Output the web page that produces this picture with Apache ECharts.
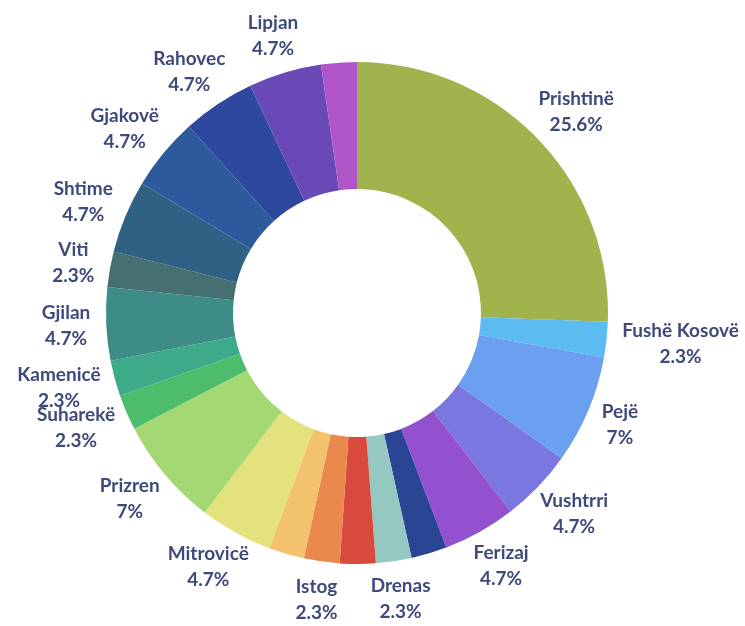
<!DOCTYPE html>
<html>
<head>
<meta charset="utf-8">
<script src="https://cdn.jsdelivr.net/npm/echarts@6/dist/echarts.min.js"></script>
<style>
  html, body { margin: 0; padding: 0; background: #ffffff; }
  #chart { width: 745px; height: 626px; }
</style>
</head>
<body>
<div id="chart"></div>
<script>
// Share of respondents by municipality (%), clockwise from 12 o'clock
const municipalities = [
  'Prishtinë', 'Fushë Kosovë', 'Pejë', 'Vushtrri', 'Ferizaj', 'Podujevë',
  'Drenas', 'Malishevë', 'Istog', 'Deçan', 'Mitrovicë', 'Prizren',
  'Suharekë', 'Kamenicë', 'Gjilan', 'Viti', 'Shtime', 'Gjakovë',
  'Rahovec', 'Lipjan', 'Klinë'
];
const shares = [
  25.6, 2.3, 7, 4.7, 4.7, 2.3,
  2.3, 2.3, 2.3, 2.3, 4.7, 7,
  2.3, 2.3, 4.7, 2.3, 4.7, 4.7,
  4.7, 4.7, 2.3
];
const sliceColors = [
  '#a0b34d', '#5cbcf2', '#6b9ff0', '#7a78e0', '#9350cf', '#2b4595',
  '#94c8c0', '#d84a3e', '#e98a4c', '#f2c26f', '#e4e27c', '#a4d872',
  '#4dbd6c', '#3daa8a', '#3d8c86', '#456f70', '#2e6184', '#2d5a9c',
  '#2e489e', '#6949b6', '#b056c8'
];
// Thin slices whose labels are left out to keep the ring readable
const unlabeled = ['Podujevë', 'Malishevë', 'Deçan', 'Klinë'];

const CENTER = [357, 313];
const INNER_R = 124;
const OUTER_R = 251;
const LABEL_GAP = 16;

const chart = echarts.init(document.getElementById('chart'), null, { renderer: 'canvas' });

chart.setOption({
  backgroundColor: '#ffffff',
  animation: false,
  series: [{
    type: 'pie',
    center: CENTER,
    radius: [INNER_R, OUTER_R],
    startAngle: 90,
    clockwise: true,
    avoidLabelOverlap: false,
    silent: true,
    data: municipalities.map((name, i) => ({
      name: name,
      value: shares[i],
      itemStyle: { color: sliceColors[i] },
      label: { show: unlabeled.indexOf(name) < 0 }
    })),
    label: {
      position: 'outside',
      distanceToLabelLine: 0,
      formatter: '{n|{b}}\n{n|{c}%}',
      rich: {
        n: {
          align: 'center',
          fontFamily: 'Lato',
          fontWeight: 'bold',
          fontSize: 19,
          lineHeight: 26,
          color: '#3e4a7c'
        }
      }
    },
    labelLine: { show: false, length: LABEL_GAP, length2: 0 },
    // Push each label outward so its box sits just beyond the slice's outer edge
    labelLayout: function (p) {
      const r = p.labelRect;
      const onRight = r.x + r.width / 2 > CENTER[0];
      const ax = onRight ? r.x : r.x + r.width;
      const ay = r.y + r.height / 2;
      let vx = ax - CENTER[0];
      let vy = ay - CENTER[1];
      const len = Math.hypot(vx, vy) || 1;
      vx /= len; vy /= len;
      return {
        x: ax + vx * r.width / 2,
        y: ay + vy * r.height / 2,
        align: 'center',
        verticalAlign: 'middle'
      };
    }
  }]
});
</script>
</body>
</html>
